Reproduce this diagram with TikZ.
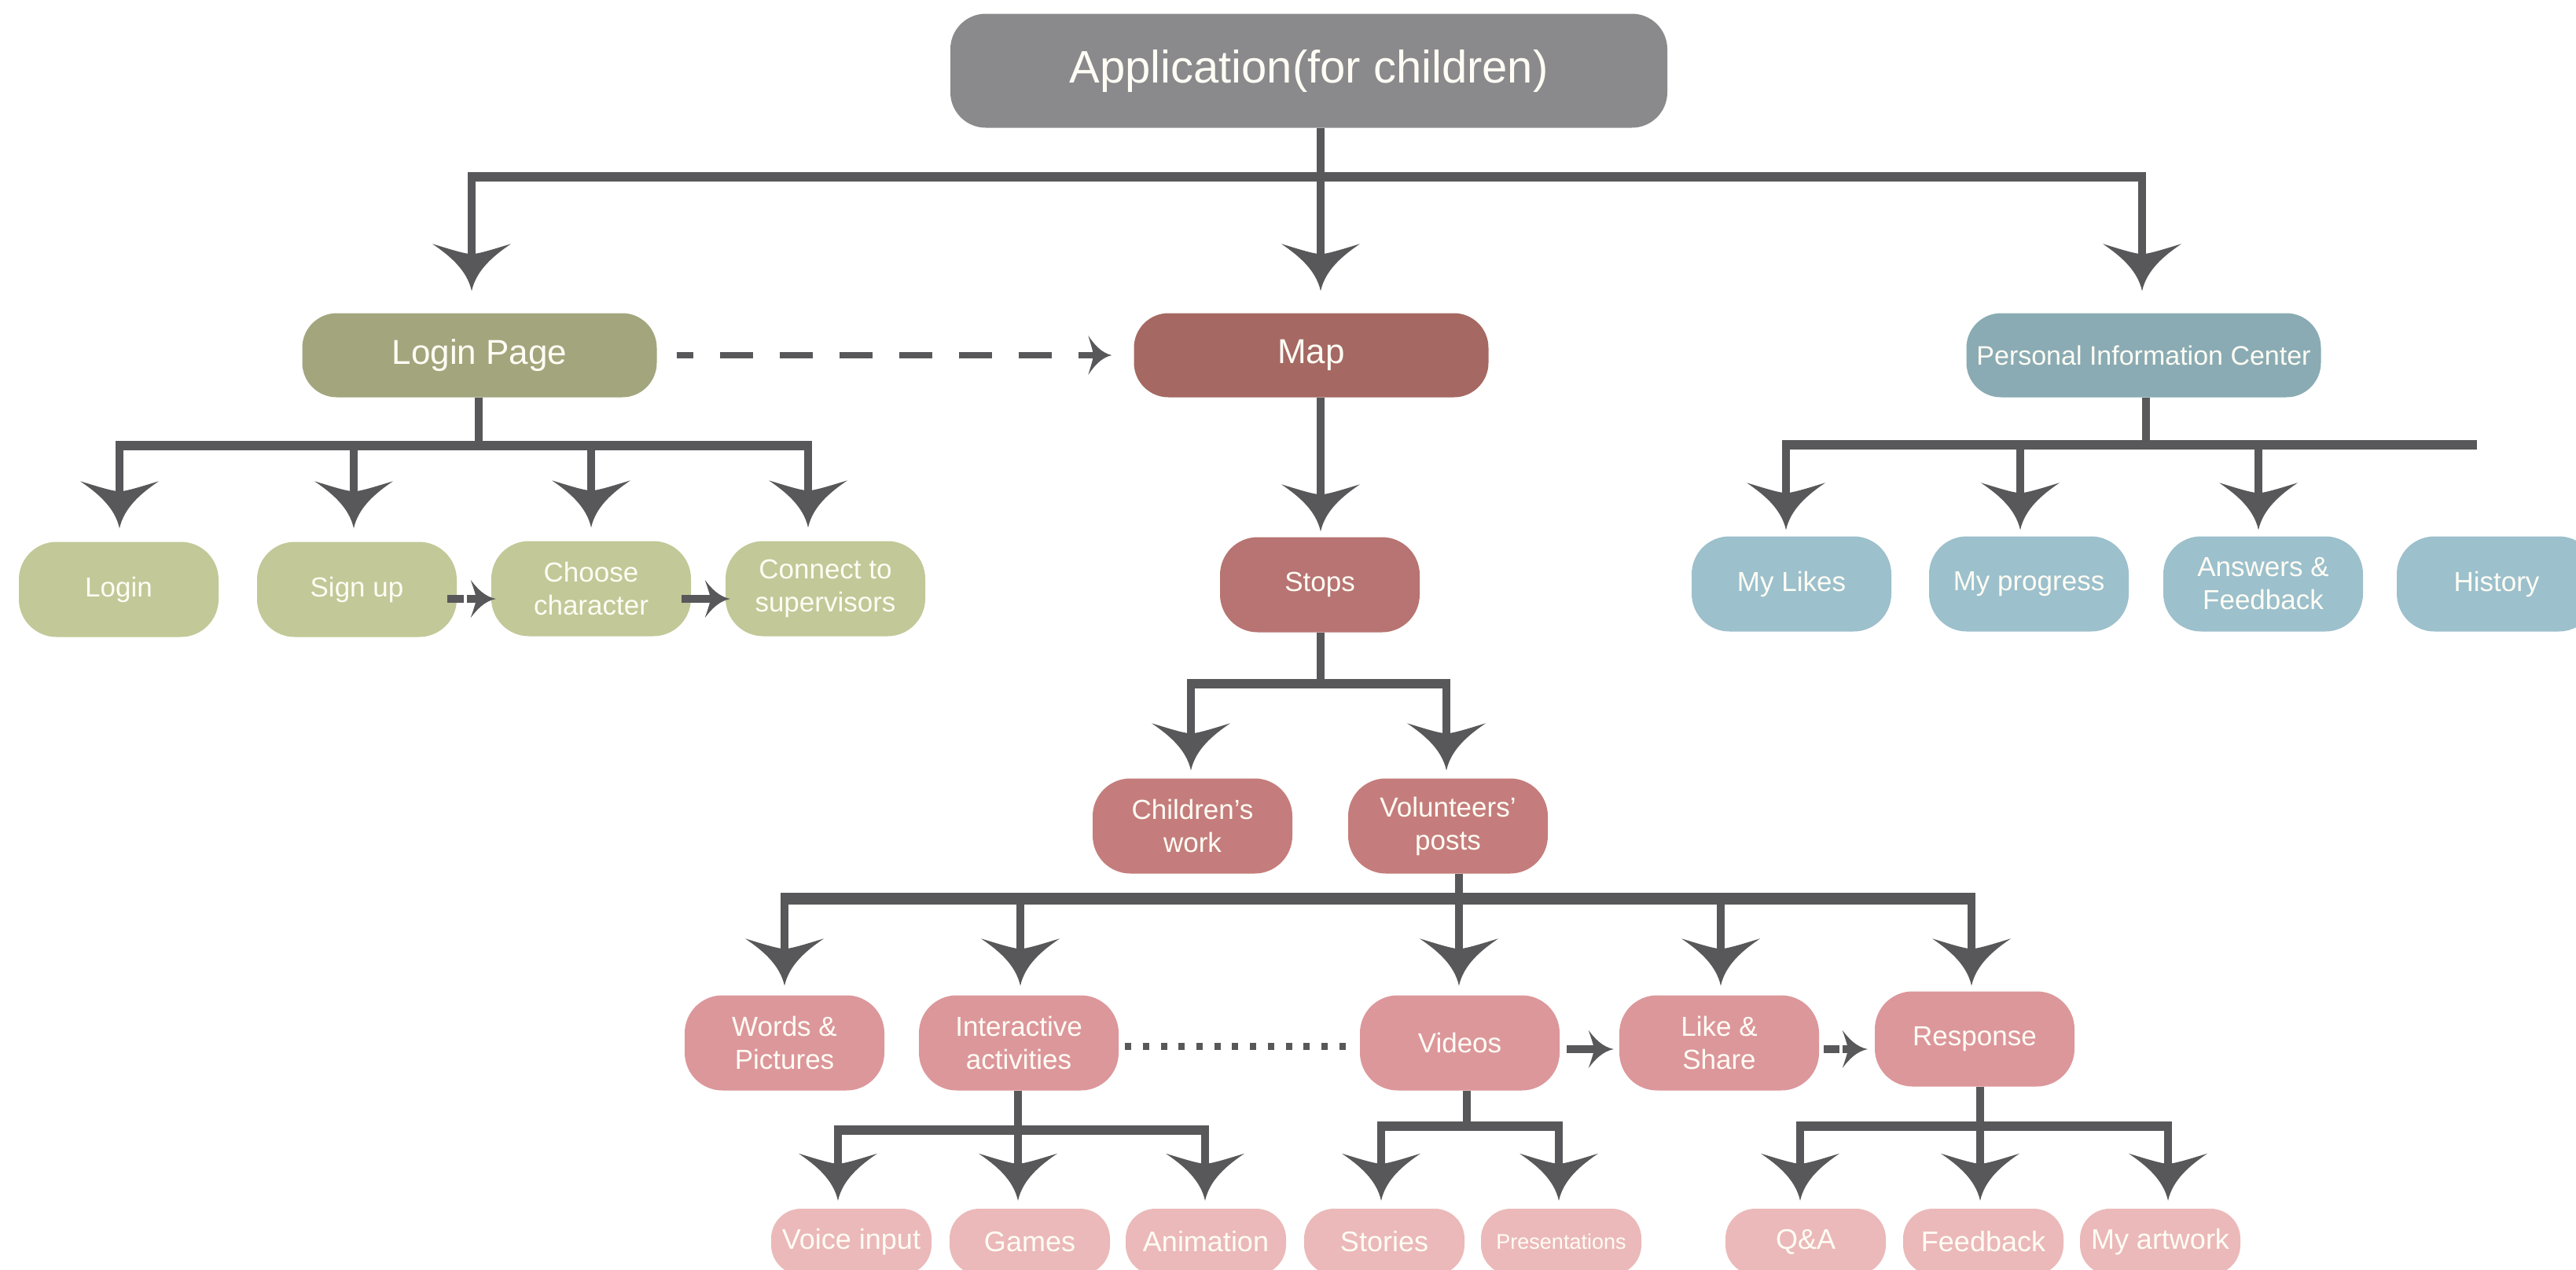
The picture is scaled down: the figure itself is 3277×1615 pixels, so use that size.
\documentclass[tikz,border=0pt]{standalone}
\usepackage{fontspec}
\setmainfont{Liberation Sans}
\usetikzlibrary{arrows.meta}

\pgfdeclarearrow{
  name = Spear,
  parameters = {\the\pgfarrowlength,\the\pgfarrowwidth},
  setup code = {
    \pgfarrowssettipend{0pt}
    \pgfarrowssetlineend{-0.6\pgfarrowlength}
    \pgfarrowssetbackend{-\pgfarrowlength}
    \pgfarrowssavethe\pgfarrowlength
    \pgfarrowssavethe\pgfarrowwidth
  },
  drawing code = {
    \pgfpathmoveto{\pgfpointorigin}
    \pgfpathcurveto
      {\pgfpoint{-0.45\pgfarrowlength}{0.06\pgfarrowwidth}}
      {\pgfpoint{-0.75\pgfarrowlength}{0.28\pgfarrowwidth}}
      {\pgfpoint{-\pgfarrowlength}{0.5\pgfarrowwidth}}
    \pgfpathcurveto
      {\pgfpoint{-0.9\pgfarrowlength}{0.3\pgfarrowwidth}}
      {\pgfpoint{-0.8\pgfarrowlength}{0.12\pgfarrowwidth}}
      {\pgfpoint{-0.78\pgfarrowlength}{0pt}}
    \pgfpathcurveto
      {\pgfpoint{-0.8\pgfarrowlength}{-0.12\pgfarrowwidth}}
      {\pgfpoint{-0.9\pgfarrowlength}{-0.3\pgfarrowwidth}}
      {\pgfpoint{-\pgfarrowlength}{-0.5\pgfarrowwidth}}
    \pgfpathcurveto
      {\pgfpoint{-0.75\pgfarrowlength}{-0.28\pgfarrowwidth}}
      {\pgfpoint{-0.45\pgfarrowlength}{-0.06\pgfarrowwidth}}
      {\pgfpointorigin}
    \pgfpathclose
    \pgfusepathqfill
  },
  defaults = {length=60pt, width=100pt}
}

\definecolor{cRoot}{HTML}{8A8A8C}
\definecolor{cLogin}{HTML}{A3A57D}
\definecolor{cLoginC}{HTML}{C2C897}
\definecolor{cMap}{HTML}{A56862}
\definecolor{cStops}{HTML}{B77472}
\definecolor{cWork}{HTML}{C47D7C}
\definecolor{cPink}{HTML}{DC979B}
\definecolor{cLight}{HTML}{EBB9B9}
\definecolor{cPic}{HTML}{8AABB3}
\definecolor{cPicC}{HTML}{9CC0CC}
\definecolor{cLine}{HTML}{58585A}
\definecolor{cText}{HTML}{FFFDF5}

\begin{document}
\begin{tikzpicture}[x=1pt,y=-1pt,
  pill/.style={rectangle, inner sep=0pt, align=center, text=cText},
  n0/.style={pill, fill=cRoot, minimum width=912pt, minimum height=145pt, rounded corners=45pt, font=\fontsize{58}{66}\selectfont},
  n1/.style={pill, minimum width=451pt, minimum height=107pt, rounded corners=44pt, font=\fontsize{44}{50}\selectfont},
  n2/.style={pill, minimum width=254pt, minimum height=121pt, rounded corners=48pt, font=\fontsize{35}{42}\selectfont},
  n3/.style={pill, fill=cLight, minimum width=204pt, minimum height=84pt, rounded corners=38pt, font=\fontsize{36}{42}\selectfont},
  tree/.style={draw=cLine, line width=10pt, -{Spear[length=60pt,width=100pt]}},
  bar/.style={draw=cLine, line width=12pt},
  link/.style={draw=cLine, line width=10pt, -{Spear[length=32pt,width=48pt]}}
]
\useasboundingbox[fill=white] (0,0) rectangle (3277,1615);

% ---------- nodes ----------
\node[n0] (root) at (1665,90) {Application(for children)};

\node[n1, fill=cLogin] (login) at (610,452) {Login Page};
\node[n1, fill=cMap] (map) at (1668,452) {Map};
\node[n1, fill=cPic, font=\fontsize{34}{40}\selectfont] (pic) at (2727,452) {Personal Information Center};

\node[n2, fill=cLoginC] (login1) at (151,750) {Login};
\node[n2, fill=cLoginC] (signup) at (454,750) {Sign up};
\node[n2, fill=cLoginC] (choose) at (752,749) {Choose\\character};
\node[n2, fill=cLoginC] (connect) at (1050,749) {Connect to\\supervisors};

\node[n2, fill=cStops] (stops) at (1679,744) {Stops};

\node[n2, fill=cPicC] (mylikes) at (2279,743) {My Likes};
\node[n2, fill=cPicC] (myprog) at (2581,743) {My progress};
\node[n2, fill=cPicC] (ansfb) at (2879,743) {Answers \&\\Feedback};
\node[n2, fill=cPicC] (history) at (3176,743) {History};

\node[n2, fill=cWork] (work) at (1517,1051) {Children's\\work};
\node[n2, fill=cWork] (vol) at (1842,1051) {Volunteers'\\posts};

\node[n2, fill=cPink] (words) at (998,1327) {Words \&\\Pictures};
\node[n2, fill=cPink] (inter) at (1296,1327) {Interactive\\activities};
\node[n2, fill=cPink] (videos) at (1857,1327) {Videos};
\node[n2, fill=cPink] (likeshare) at (2187,1327) {Like \&\\Share};
\node[n2, fill=cPink] (response) at (2512,1322) {Response};

\node[n3] (voice) at (1083,1580) {Voice input};
\node[n3] (games) at (1310,1580) {Games};
\node[n3] (anim) at (1534,1580) {Animation};
\node[n3] (stories) at (1761,1580) {Stories};
\node[n3, font=\fontsize{27}{32}\selectfont] (present) at (1986,1580) {Presentations};
\node[n3] (qa) at (2297,1580) {Q\&A};
\node[n3] (feedback) at (2523,1580) {Feedback};
\node[n3] (artwork) at (2748,1580) {My artwork};

% ---------- bars ----------
\draw[bar] (595,225) -- (2730,225);
\draw[bar] (147,567) -- (1033,567);
\draw[bar] (2267,566) -- (3151,566);
\draw[bar] (1510,870) -- (1845,870);
\draw[bar, line width=15pt] (993,1143) -- (2513,1143);
\draw[bar] (1061,1438) -- (1538,1438);
\draw[bar] (1752,1433) -- (1988,1433);
\draw[bar] (2285,1433) -- (2763,1433);

% ---------- tree connectors ----------
\draw[tree, shorten >=28pt] (root.south -| 1680,0) |- (600,225) -- (login.north -| 600,0);
\draw[tree, shorten >=28pt] (root.south -| 1680,0) -- (map.north -| 1680,0);
\draw[tree, shorten >=28pt] (root.south -| 1680,0) |- (2725,225) -- (pic.north -| 2725,0);

\draw[tree, shorten >=17pt] (login.south -| 609,0) |- (152,567) -- (login1.north -| 152,0);
\draw[tree, shorten >=17pt] (login.south -| 609,0) |- (450,567) -- (signup.north -| 450,0);
\draw[tree, shorten >=17pt] (login.south -| 609,0) |- (752,567) -- (choose.north -| 752,0);
\draw[tree, shorten >=17pt] (login.south -| 609,0) |- (1028,567) -- (connect.north -| 1028,0);

\draw[tree, shorten >=7pt] (map.south -| 1680,0) -- (stops.north -| 1680,0);

\draw[tree, shorten >=8pt] (pic.south -| 2730,0) |- (2272,566) -- (mylikes.north -| 2272,0);
\draw[tree, shorten >=8pt] (pic.south -| 2730,0) |- (2570,566) -- (myprog.north -| 2570,0);
\draw[tree, shorten >=8pt] (pic.south -| 2730,0) |- (2873,566) -- (ansfb.north -| 2873,0);

\draw[tree, shorten >=10pt] (stops.south -| 1680,0) |- (1515,870) -- (work.north -| 1515,0);
\draw[tree, shorten >=10pt] (stops.south -| 1680,0) |- (1840,870) -- (vol.north -| 1840,0);

\draw[tree, shorten >=12pt] (vol.south -| 1856,0) |- (998,1143) -- (words.north -| 998,0);
\draw[tree, shorten >=12pt] (vol.south -| 1856,0) |- (1298,1143) -- (inter.north -| 1298,0);
\draw[tree, shorten >=12pt] (vol.south -| 1856,0) -- (videos.north -| 1856,0);
\draw[tree, shorten >=12pt] (vol.south -| 1856,0) |- (2189,1143) -- (likeshare.north -| 2189,0);
\draw[tree, shorten >=7pt] (vol.south -| 1856,0) |- (2508,1143) -- (response.north -| 2508,0);

\draw[tree, shorten >=10pt] (inter.south -| 1295,0) |- (1066,1438) -- (voice.north -| 1066,0);
\draw[tree, shorten >=10pt] (inter.south -| 1295,0) -- (games.north -| 1295,0);
\draw[tree, shorten >=10pt] (inter.south -| 1295,0) |- (1533,1438) -- (anim.north -| 1533,0);

\draw[tree, shorten >=10pt] (videos.south -| 1866,0) |- (1757,1433) -- (stories.north -| 1757,0);
\draw[tree, shorten >=10pt] (videos.south -| 1866,0) |- (1983,1433) -- (present.north -| 1983,0);

\draw[tree, shorten >=10pt] (response.south -| 2519,0) |- (2290,1433) -- (qa.north -| 2290,0);
\draw[tree, shorten >=10pt] (response.south -| 2519,0) -- (feedback.north -| 2519,0);
\draw[tree, shorten >=10pt] (response.south -| 2519,0) |- (2758,1433) -- (artwork.north -| 2758,0);

% ---------- horizontal links ----------
\draw[draw=cLine, line width=8pt, dash pattern=on 42pt off 34pt, dash phase=21pt,
      -{Spear[length=30pt,width=50pt]}, shorten <=25pt, shorten >=28pt]
  (login.east) -- (map.west);

\draw[link, dash pattern=on 21pt off 4pt, shorten <=-12pt, shorten >=-6pt]
  ([yshift=-12pt]signup.east) -- ([yshift=-13pt]choose.west);
\draw[link, shorten <=-12pt, shorten >=-6pt]
  ([yshift=-13pt]choose.east) -- ([yshift=-13pt]connect.west);

\draw[draw=cLine, line width=9pt, dash pattern=on 8pt off 14.7pt, shorten <=8pt, shorten >=4pt]
  ([yshift=-4pt]inter.east) -- ([yshift=-4pt]videos.west);

\draw[link, shorten <=9pt, shorten >=7pt]
  ([yshift=-8pt]videos.east) -- ([yshift=-8pt]likeshare.west);
\draw[link, dash pattern=on 20pt off 4pt, shorten <=6pt, shorten >=9pt]
  ([yshift=-8pt]likeshare.east) -- ([yshift=-13pt]response.west);
\end{tikzpicture}
\end{document}
